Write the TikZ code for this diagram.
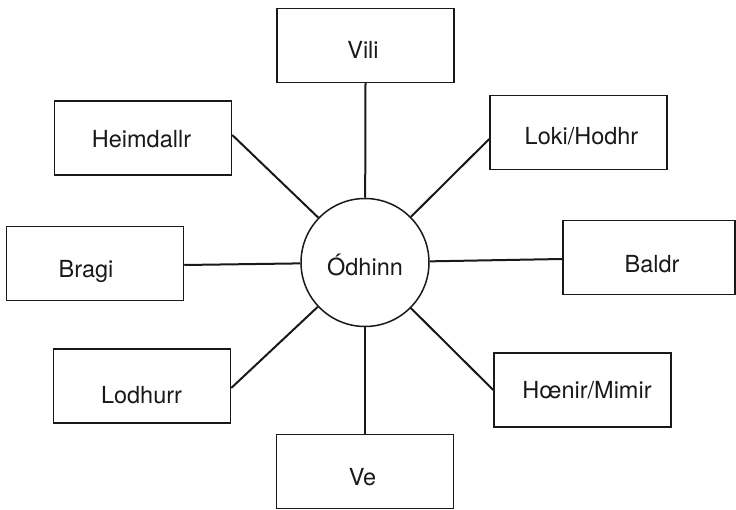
\documentclass[tikz,border=0pt]{standalone}
\usepackage{fontspec}
\setmainfont{TeX Gyre Heros}
\begin{document}
\begin{tikzpicture}[x=1pt,y=-1pt,
  godbox/.style={draw=black!90, line width=1.5pt, minimum width=177pt, minimum height=74pt, inner sep=0pt},
  godlabel/.style={anchor=base, inner sep=0pt, font=\fontsize{23.5}{27}\selectfont, text=black!90},
  link/.style={draw=black!90, line width=2pt}]
\useasboundingbox (0,0) rectangle (736,510);
% boxes
\node[godbox] (vili) at (365.5,45.5) {};
\node[godbox] (heim) at (143,138) {};
\node[godbox] (loki) at (578.5,132.5) {};
\node[godbox] (bragi) at (95,263.5) {};
\node[godbox, minimum width=172pt] (baldr) at (649,257.5) {};
\node[godbox] (lodh) at (142,386) {};
\node[godbox] (hoen) at (582.5,390) {};
\node[godbox] (ve) at (365,471.5) {};
% centre circle
\node[draw=black!90, line width=1.5pt, circle, minimum size=128pt, inner sep=0pt] (odin) at (365,262.5) {};
% labels
\node[godlabel] (viliT) at (363,59) {Vili};
\node[godlabel] (heimT) at (141.5,147.5) {Heimdallr};
\node[godlabel] (lokiT) at (581.5,145) {Loki/Hodhr};
\node[godlabel] (bragiT) at (86,278) {Bragi};
\node[godlabel] (baldrT) at (652,273) {Baldr};
\node[godlabel] (lodhT) at (141.5,403) {Lodhurr};
\node[godlabel] (hoenT) at (587,399) {Hœnir/Mimir};
\node[godlabel] (veT) at (362.5,485) {Ve};
\node[godlabel] (odinT) at (365,276) {Ódhinn};
% connectors
\draw[link] (vili.south) -- (odin);
\draw[link] ([yshift=3pt]heim.east) -- (odin);
\draw[link] ([yshift=-6.5pt]loki.west) -- (odin);
\draw[link] ([yshift=-1.5pt]bragi.east) -- (odin);
\draw[link] ([yshift=-1.5pt]baldr.west) -- (odin);
\draw[link] ([yshift=-2pt]lodh.east) -- (odin);
\draw[link] (hoen.west) -- (odin);
\draw[link] (ve.north) -- (odin);
\end{tikzpicture}
\end{document}
